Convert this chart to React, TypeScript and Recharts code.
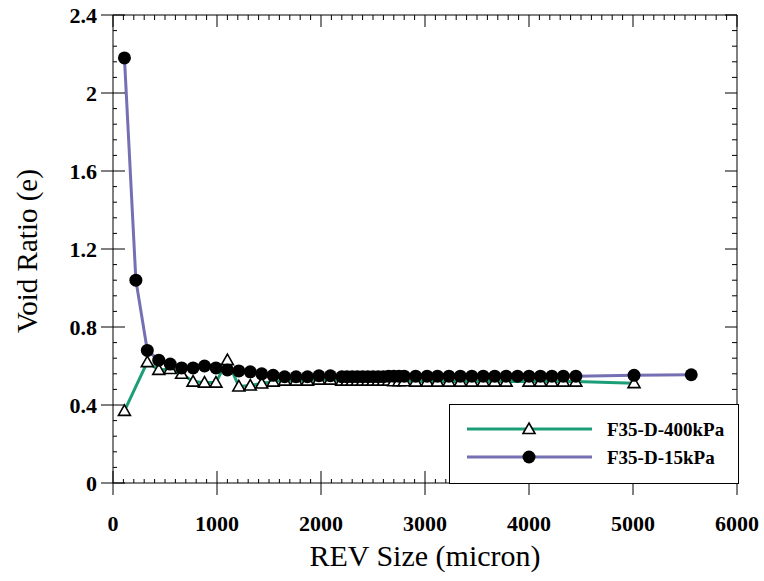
import React from "react";
import { ScatterChart, Scatter, XAxis, YAxis, Legend } from "recharts";

// REV size (micron) and void ratio
const sizes400 = [
  110, 330, 440, 550, 660, 770, 880, 990, 1100, 1210, 1320, 1430, 1540, 1650, 1760, 1870, 1980, 2090,
  2200, 2250, 2300, 2350, 2400, 2450, 2500, 2550, 2600, 2650, 2700, 2750, 2800,
  2910, 3020, 3120, 3230, 3340, 3450, 3560, 3670, 3780, 4000, 4110, 4220, 4330, 4450, 5010,
];
const ratio400 = [
  0.37, 0.62, 0.58, 0.585, 0.56, 0.52, 0.515, 0.515, 0.63, 0.495, 0.5, 0.51, 0.52, 0.525, 0.525, 0.525, 0.53, 0.53,
  0.525, 0.525, 0.525, 0.525, 0.525, 0.525, 0.525, 0.525, 0.525, 0.525, 0.522, 0.522, 0.522,
  0.52, 0.52, 0.52, 0.52, 0.52, 0.52, 0.52, 0.52, 0.52, 0.52, 0.52, 0.52, 0.52, 0.52, 0.512,
];

const sizes15 = [
  110, 220, 330, 440, 550, 660, 770, 880, 990, 1100, 1210, 1320, 1430, 1540, 1650, 1760, 1870, 1980, 2090,
  2200, 2250, 2300, 2350, 2400, 2450, 2500, 2550, 2600, 2650, 2700, 2750, 2800,
  2910, 3020, 3120, 3230, 3340, 3450, 3560, 3670, 3780, 3890, 4000, 4110, 4220, 4330, 4450, 5010, 5560,
];
const ratio15 = [
  2.18, 1.04, 0.68, 0.63, 0.61, 0.59, 0.59, 0.6, 0.59, 0.58, 0.575, 0.57, 0.56, 0.552, 0.545, 0.545, 0.545, 0.55, 0.55,
  0.545, 0.545, 0.545, 0.545, 0.545, 0.545, 0.545, 0.545, 0.545, 0.548, 0.548, 0.548, 0.548,
  0.548, 0.548, 0.548, 0.548, 0.548, 0.548, 0.548, 0.548, 0.548, 0.548, 0.548, 0.548, 0.548, 0.548, 0.548, 0.552, 0.555,
];

const xMajor = [0, 1000, 2000, 3000, 4000, 5000, 6000];
const yMajor = [0, 0.4, 0.8, 1.2, 1.6, 2, 2.4];
const seriesNames = ["F35-D-400kPa", "F35-D-15kPa"];

const GREEN = "#1b9e77";
const PURPLE = "#7570b3";
const FONT = "'Liberation Serif', 'Times New Roman', serif";

const W = 764;
const H = 581;
const X_AXIS_H = 60;
const Y_AXIS_W = 60;
const M = { top: 15, right: 27, bottom: 98 - X_AXIS_H, left: 113 - Y_AXIS_W };
const PLOT_TOP = 15;
const PLOT_RIGHT = W - 27;
const PLOT_LEFT = 113;
const PLOT_BOTTOM = H - 98;

// minor ticks: 10 per major on x, 5 per major on y
const xTicks: number[] = [];
for (let i = 0; i < xMajor.length - 1; i++) {
  for (let k = 0; k < 10; k++) xTicks.push(xMajor[i] + k * 100);
}
xTicks.push(6000);
const yTicks: number[] = [];
for (let i = 0; i < yMajor.length - 1; i++) {
  for (let k = 0; k < 5; k++) yTicks.push(Math.round((yMajor[i] + k * 0.08) * 100) / 100);
}
yTicks.push(2.4);

const data400 = sizes400.map((s, i) => ({ size: s, ratio: ratio400[i] }));
const data15 = sizes15.map((s, i) => ({ size: s, ratio: ratio15[i] }));

function XTick(props: any) {
  const { x, payload, index } = props;
  const y = PLOT_BOTTOM;
  const major = index % 10 === 0;
  return (
    <g>
      {index === 0 && <line x1={PLOT_LEFT} x2={PLOT_RIGHT} y1={PLOT_TOP} y2={PLOT_TOP} stroke="#000" />}
      <line x1={x} x2={x} y1={major ? y + 12 : y} y2={y - (major ? 12 : 4)} stroke="#000" />
      <line x1={x} x2={x} y1={PLOT_TOP} y2={PLOT_TOP + (major ? 12 : 5)} stroke="#000" />
      {major && (
        <text x={x} y={y + 48} textAnchor="middle" fontFamily={FONT} fontWeight="bold" fontSize={22} fill="#000">
          {payload.value}
        </text>
      )}
    </g>
  );
}

function YTick(props: any) {
  const { y, payload, index } = props;
  const x = PLOT_LEFT;
  const major = index % 5 === 0;
  return (
    <g>
      {index === 0 && <line x1={PLOT_RIGHT} x2={PLOT_RIGHT} y1={PLOT_TOP} y2={PLOT_BOTTOM} stroke="#000" />}
      <line x1={major ? x - 12 : x} x2={x + (major ? 12 : 4)} y1={y} y2={y} stroke="#000" />
      <line x1={PLOT_RIGHT - (major ? 12 : 5)} x2={PLOT_RIGHT} y1={y} y2={y} stroke="#000" />
      {major && (
        <text x={x - 16} y={y} dy="0.35em" textAnchor="end" fontFamily={FONT} fontWeight="bold" fontSize={22} fill="#000">
          {payload.value}
        </text>
      )}
    </g>
  );
}

function YTitle() {
  return (
    <text x={37} y={251} transform="rotate(-90 37 251)" textAnchor="middle" fontFamily={FONT} fontSize={29} fill="#000">
      Void Ratio (e)
    </text>
  );
}

function XTitle() {
  return (
    <text x={425} y={566} textAnchor="middle" fontFamily={FONT} fontSize={30} fill="#000">
      REV Size (micron)
    </text>
  );
}

function Triangle(props: any) {
  const { cx, cy } = props;
  return (
    <path
      d={`M${cx},${cy - 6}L${cx + 6},${cy + 4.5}L${cx - 6},${cy + 4.5}Z`}
      fill="#fff"
      stroke="#000"
      strokeWidth={1.6}
    />
  );
}

function Dot(props: any) {
  const { cx, cy } = props;
  return <circle cx={cx} cy={cy} r={6.5} fill="#000" />;
}

function LegendBox() {
  return (
    <svg width={290} height={80} style={{ display: "block" }}>
      <rect x={0.5} y={0.5} width={289} height={79} fill="#fff" stroke="#000" />
      <line x1={18} x2={143} y1={25} y2={25} stroke={GREEN} strokeWidth={3} />
      <Triangle cx={80} cy={25} />
      <text x={158} y={25} dy="0.35em" fontFamily={FONT} fontWeight="bold" fontSize={19} fill="#000">
        {seriesNames[0]}
      </text>
      <line x1={18} x2={143} y1={53} y2={53} stroke={PURPLE} strokeWidth={3} />
      <Dot cx={80} cy={53} />
      <text x={158} y={53} dy="0.35em" fontFamily={FONT} fontWeight="bold" fontSize={19} fill="#000">
        {seriesNames[1]}
      </text>
    </svg>
  );
}

export default function App() {
  return (
    <div style={{ position: "absolute", left: 0, top: 0, background: "#fff" }}>
      <ScatterChart width={W} height={H} margin={M}>
        <XAxis
          type="number"
          dataKey="size"
          domain={[0, 6000]}
          ticks={xTicks}
          interval={0}
          height={X_AXIS_H}
          tickSize={0}
          tickMargin={0}
          tickLine={false}
          tick={XTick}
          axisLine={{ stroke: "#000" }}
          label={<XTitle />}
        />
        <YAxis
          type="number"
          dataKey="ratio"
          domain={[0, 2.4]}
          ticks={yTicks}
          interval={0}
          width={Y_AXIS_W}
          tickSize={0}
          tickMargin={0}
          tickLine={false}
          tick={YTick}
          axisLine={{ stroke: "#000" }}
          label={<YTitle />}
        />
        <Legend
          layout="horizontal"
          verticalAlign="middle"
          align="center"
          content={() => <LegendBox />}
          wrapperStyle={{ left: 449, top: 404, width: 290, height: 80 }}
        />
        <Scatter
          name={seriesNames[0]}
          data={data400}
          line={{ stroke: GREEN, strokeWidth: 3 }}
          lineType="joint"
          shape={Triangle}
          isAnimationActive={false}
        />
        <Scatter
          name={seriesNames[1]}
          data={data15}
          line={{ stroke: PURPLE, strokeWidth: 3 }}
          lineType="joint"
          shape={Dot}
          isAnimationActive={false}
        />
      </ScatterChart>
    </div>
  );
}
